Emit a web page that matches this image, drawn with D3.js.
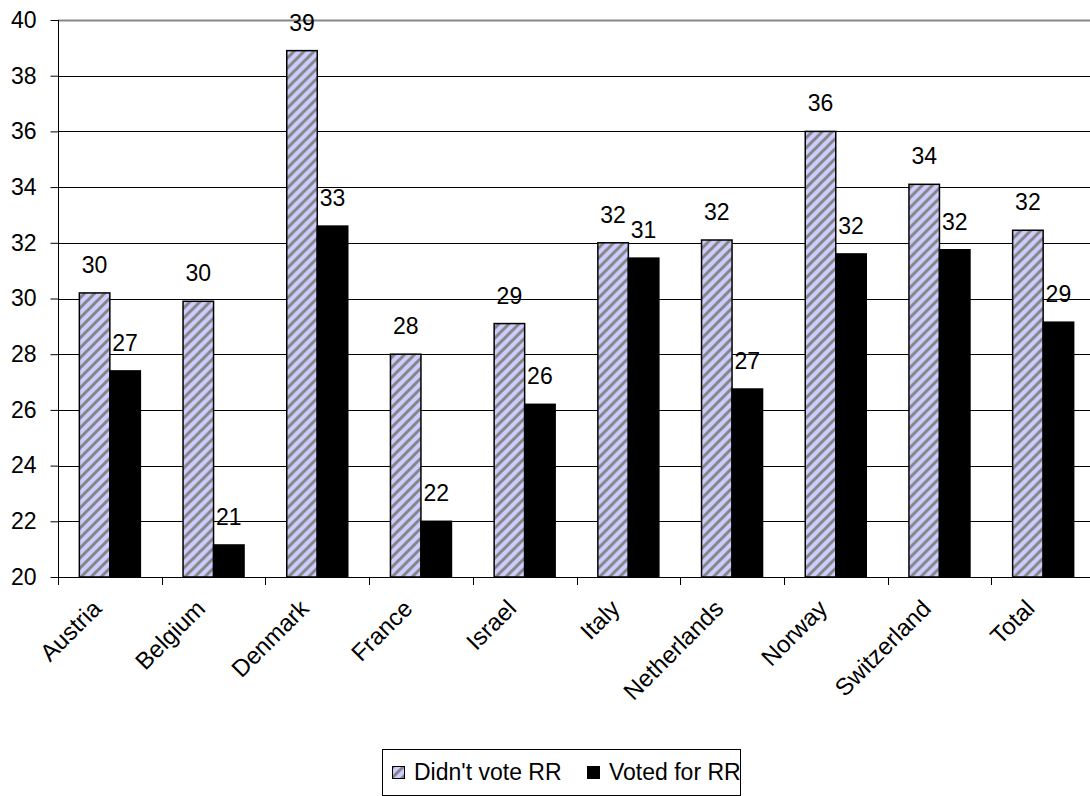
<!DOCTYPE html>
<html>
<head>
<meta charset="utf-8">
<script src="https://cdn.jsdelivr.net/npm/d3@7"></script>
<style>
  html, body { margin: 0; padding: 0; background: #fff; }
  svg { display: block; font-family: "Liberation Sans", Arial, sans-serif; }
</style>
</head>
<body>
<svg id="chart" width="1090" height="796"></svg>
<script>
const categories = ["Austria", "Belgium", "Denmark", "France", "Israel", "Italy", "Netherlands", "Norway", "Switzerland", "Total"];
const seriesNames = ["Didn't vote RR", "Voted for RR"];
const didntVote = [30.2, 29.9, 38.9, 28.0, 29.1, 32.0, 32.1, 36.0, 34.1, 32.45];
const votedFor  = [27.4, 21.15, 32.6, 22.0, 26.2, 31.45, 26.75, 31.6, 31.75, 29.15];
const yTicks = [20, 22, 24, 26, 28, 30, 32, 34, 36, 38, 40];

(function () {
const svg = d3.select("#chart");
const pLeft = 58, pRight = 1095, pTop = 20, pBottom = 577;
const FS = 23;

const defs = svg.append("defs");
const P = 10;
const pat = defs.append("pattern")
  .attr("id", "hatch")
  .attr("patternUnits", "userSpaceOnUse")
  .attr("width", P).attr("height", P);
pat.append("rect").attr("width", P).attr("height", P).attr("fill", "#CCCCFF");
pat.append("path")
  .attr("d", `M-2,${P + 2} L${P + 2},-2 M-2,2 L2,-2 M${P - 2},${P + 2} L${P + 2},${P - 2}`)
  .attr("stroke", "#858585").attr("stroke-width", 3);

const x = d3.scaleBand().domain(categories).range([pLeft, pRight]).paddingInner(0).paddingOuter(0);
const xs = d3.scaleBand().domain(seriesNames).range([0, x.bandwidth()]).paddingInner(0).paddingOuter(0.7);
const y = d3.scaleLinear().domain([20, 40]).range([pBottom, pTop]);

// gridlines
svg.append("g").selectAll("line").data(yTicks.filter(t => t > 20)).join("line")
  .attr("x1", pLeft).attr("x2", 1090)
  .attr("y1", d => Math.round(y(d)) + 0.5).attr("y2", d => Math.round(y(d)) + 0.5)
  .attr("stroke", d => d === 40 ? "#888888" : "#000")
  .attr("stroke-width", d => d === 40 ? 2 : 1);

const data = categories.map((c, i) => ({ c, vals: [didntVote[i], votedFor[i]] }));

const groups = svg.append("g").selectAll("g").data(data).join("g")
  .attr("transform", d => `translate(${x(d.c)},0)`);

groups.selectAll("rect").data(d => d.vals.map((v, j) => ({ s: seriesNames[j], v, j }))).join("rect")
  .attr("x", d => xs(d.s))
  .attr("width", xs.bandwidth())
  .attr("y", d => y(d.v))
  .attr("height", d => y(20) - y(d.v))
  .attr("fill", d => d.j === 0 ? "url(#hatch)" : "#000")
  .attr("stroke", "#000")
  .attr("stroke-width", 1.5);

groups.selectAll("text").data(d => d.vals.map((v, j) => ({ s: seriesNames[j], v, j }))).join("text")
  .attr("x", d => xs(d.s) + xs.bandwidth() / 2)
  .attr("y", d => y(d.v) - 20)
  .attr("text-anchor", "middle")
  .attr("font-size", FS)
  .attr("fill", "#000")
  .text(d => Math.round(d.v));

// y axis
const yAxis = d3.axisLeft(y).tickValues(yTicks).tickSize(8).tickPadding(14).tickFormat(d3.format("d"));
const gy = svg.append("g").attr("transform", `translate(${pLeft + 0.5},0)`).call(yAxis);
gy.select(".domain").attr("stroke", "#000").attr("d", `M0,${pTop}V${pBottom}`);
gy.selectAll(".tick line").attr("stroke", "#000");
gy.selectAll(".tick text").attr("font-size", FS).attr("font-family", "Liberation Sans, Arial, sans-serif").attr("fill", "#000");

// x axis
const xAxis = d3.axisBottom(x).tickSize(0).tickFormat("");
const gx = svg.append("g").attr("transform", `translate(0,${pBottom + 0.5})`).call(xAxis);
gx.select(".domain").attr("stroke", "#000").attr("d", `M${pLeft},0H1090`);
gx.selectAll(".tick").remove();
svg.append("g").selectAll("line").data(categories).join("line")
  .attr("x1", d => Math.round(x(d)) + 0.5).attr("x2", d => Math.round(x(d)) + 0.5)
  .attr("y1", pBottom).attr("y2", pBottom + 8)
  .attr("stroke", "#000");

svg.append("g").selectAll("text").data(categories).join("text")
  .attr("transform", d => `translate(${x(d) + x.bandwidth() / 2 - 7},${pBottom + 33}) rotate(-45)`)
  .attr("text-anchor", "end")
  .attr("font-size", 24)
  .attr("fill", "#000")
  .text(d => d);

// legend
const leg = svg.append("g");
leg.append("rect").attr("x", 382.5).attr("y", 749.5).attr("width", 358).attr("height", 46)
  .attr("fill", "#fff").attr("stroke", "#000").attr("stroke-width", 1);
const legX = [392, 587];
seriesNames.forEach((s, j) => {
  leg.append("rect").attr("x", legX[j] + 0.5).attr("y", 766.5).attr("width", 12).attr("height", 12)
    .attr("fill", j === 0 ? "url(#hatch)" : "#000").attr("stroke", "#000").attr("stroke-width", 1);
  leg.append("text").attr("x", legX[j] + 22).attr("y", 780).attr("font-size", FS).attr("fill", "#000").text(s);
});
})();
</script>
</body>
</html>
